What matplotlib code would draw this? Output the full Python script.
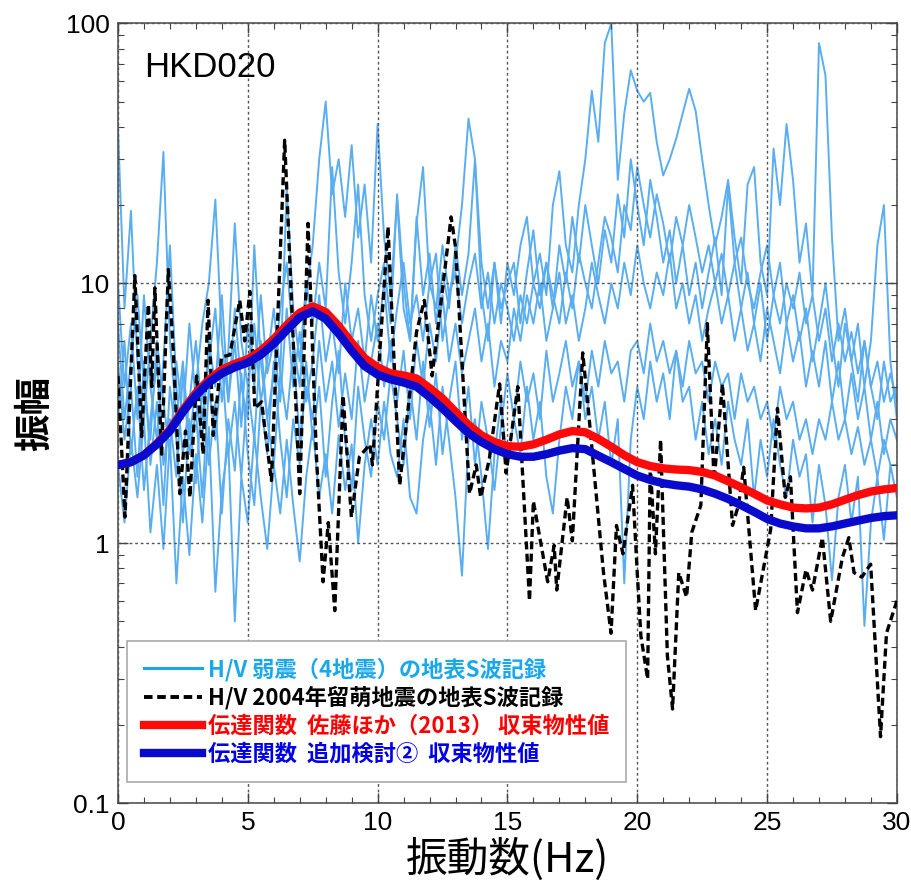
import numpy as np
import matplotlib
matplotlib.use('Agg')
import matplotlib.pyplot as plt
from matplotlib import font_manager
from matplotlib.lines import Line2D
from matplotlib.ticker import FixedLocator, NullFormatter

# ---- data ----
# weak-motion H/V records, one value every 0.25 Hz from 0 to 30 Hz
hv_freq = np.linspace(0, 30, 121)
hv_1 = [40, 8, 19, 5, 3, 6, 12, 32, 6, 3, 5, 2.5, 4, 7, 10, 21, 6, 3.5, 8, 4,
        3, 14, 5, 3, 4.5, 8, 12, 6, 4, 9, 14, 30, 50, 22, 30, 18, 34, 15, 24, 12,
        41, 15, 9, 21, 8, 6, 17, 28, 10, 13, 6, 9, 12, 20, 43, 30, 12, 8, 12, 7,
        12, 9, 14, 18, 10, 13, 9, 20, 27, 14, 11, 20, 30, 55, 35, 84, 100, 25, 45, 66,
        55, 50, 54, 35, 26, 30, 36, 45, 56, 46, 30, 20, 14, 18, 25, 15, 10, 24, 28, 12,
        9, 33, 20, 41, 25, 12, 17, 9, 84, 63, 15, 6, 8, 5, 7, 4, 6, 14, 20, 5, 3]
hv_2 = [10, 4, 7, 3, 9, 4, 2.5, 5, 14, 4, 2.2, 3.5, 6, 3, 5, 8, 3.5, 5.5, 17, 6,
        4, 7, 3.5, 5, 8, 4.5, 23, 8, 5, 10, 7, 12, 8, 28, 11, 7, 12, 24, 9, 6,
        9, 12, 7, 22, 10, 6, 18, 9, 13, 7, 11, 8, 14, 9, 13, 30, 9, 6, 12, 8,
        10, 12, 7, 11, 16, 9, 12, 8, 14, 10, 18, 12, 20, 14, 10, 16, 12, 22, 15, 30,
        20, 14, 25, 18, 12, 16, 10, 14, 9, 12, 8, 11, 15, 9, 24, 12, 8, 11, 7, 10,
        6, 9, 12, 7, 9, 6, 8, 5, 7, 10, 6, 4, 7, 5, 3.5, 6, 4, 3, 5, 3.5, 4]
hv_3 = [3, 6, 2.2, 4, 1.6, 3, 5, 2, 3, 1.8, 4.5, 2.2, 3.2, 1.5, 4, 2.5, 5, 2.2, 3.5, 1.8,
        4, 2.5, 6, 3, 2, 4.5, 3, 5.5, 2.5, 4, 3, 6, 3.5, 5, 2.8, 4.5, 3, 6, 3.5, 5,
        7, 4, 6, 3.5, 5.5, 3, 6, 4, 7, 5, 9, 5, 7, 4.5, 6, 8, 5, 7, 4, 6,
        5, 8, 6, 9, 7, 10, 6, 8, 11, 7, 9, 6, 8, 12, 9, 7, 10, 8, 12, 9,
        14, 10, 8, 11, 9, 13, 8, 10, 7, 9, 6, 8, 10, 7, 9, 6, 8, 5.5, 7, 5,
        8, 6, 4.5, 7, 5, 6.5, 4, 5.5, 4, 6, 3.5, 5, 3, 4.5, 3, 4, 2.5, 3.5, 2.2, 3, 2.5]
hv_4 = [2, 1.2, 2.5, 1.5, 3, 1.1, 2, 0.95, 2.5, 0.7, 1.8, 0.9, 2.2, 1.2, 2.8, 0.65, 1.6, 2.4, 0.5, 1.8,
        1.2, 2.6, 1.5, 0.95, 2, 1.3, 2.5, 1.4, 0.85, 1.8, 2.8, 1.5, 2.2, 1.3, 2.6, 1.6, 2.4, 1.0, 2, 3,
        2, 3.5, 2.2, 1.8, 3, 1.5, 1.3, 2.5, 3.5, 2, 4, 2.5, 1.5, 0.75, 2.5, 3, 1.8, 0.95, 2.2, 3.5,
        2, 3, 2.2, 4, 2.5, 3.5, 1.8, 1.3, 2.5, 4, 3, 5, 3, 4, 2.5, 3.5, 2, 3, 0.7, 2.5,
        4, 3, 5, 3.5, 4.5, 3, 5.5, 3.5, 4, 2.5, 3.5, 2.2, 3, 2, 3.5, 2.5, 2, 3, 1.5, 2.5,
        1.8, 3, 2, 1.5, 2.5, 1.8, 2.2, 1.2, 2, 1.4, 0.72, 1.5, 2, 1.2, 1.8, 0.48, 1.2, 1.8, 1.03, 2, 1.5]
hv_5 = [5, 2.5, 4, 1.8, 5, 2, 3.5, 1.4, 4, 2.5, 1.2, 3, 1.7, 4, 2, 3.5, 1.3, 3, 1.9, 4.5,
        2.2, 1.4, 3.5, 2.2, 5, 2.5, 1.5, 3, 2, 5, 2.5, 4, 1.8, 3.5, 5.5, 2.5, 1.6, 4, 2.5, 1.8,
        3.5, 2.5, 4.5, 3, 2, 4, 2.5, 5, 2.8, 4.5, 2.2, 3.5, 5, 2.5, 4, 2, 3.5, 2.5, 1.6, 2.8,
        4.5, 3, 5, 3.5, 4.5, 3, 5.5, 3.5, 4.5, 6, 4, 5, 3.5, 5.5, 4, 6, 4.5, 5, 3.5, 5.5,
        6, 4.5, 7, 5, 6, 4.5, 5.5, 4, 6, 4.5, 5, 3.5, 5, 4, 4.5, 3, 4.5, 3.5, 4, 3,
        3.5, 2.5, 4, 3, 3.5, 2.5, 3, 2.2, 3, 2.5, 3.5, 2.5, 3, 2.2, 2.8, 2, 2.5, 1.8, 2.5, 2, 2]
hv_6 = [7, 3, 5, 9, 4, 2.5, 6, 3.5, 2.2, 5, 3, 7, 3.5, 2.5, 6, 4, 9, 3.5, 6, 2.8,
        7, 4, 9, 4.5, 6, 3.5, 8, 4, 6.5, 3.5, 5, 9, 5, 7, 4.5, 10, 6, 8, 5, 9,
        6, 10, 5, 8, 12, 7, 9, 6, 10, 8, 14, 9, 11, 7, 10, 13, 8, 11, 7, 10,
        8, 6, 9, 7, 10, 8, 12, 9, 7, 11, 8, 13, 10, 8, 12, 18, 15, 11, 20, 16,
        28, 20, 15, 22, 17, 12, 18, 14, 20, 15, 11, 14, 10, 13, 9, 12, 15, 10, 8, 11,
        14, 9, 7, 10, 8, 11, 7, 9, 6, 8, 5, 7, 5, 6.5, 4.5, 6, 4, 5, 3.5, 4.5, 3.5]
hv_weak = [hv_1, hv_2, hv_3, hv_4, hv_5, hv_6]

# 2004 Rumoi earthquake H/V (black dashed)
rumoi_freq = [0.0, 0.27, 0.65, 0.91, 1.17, 1.3, 1.42, 1.68, 1.94, 2.13, 2.38, 2.6, 2.77, 3.03,
              3.28, 3.47, 3.67, 3.99, 4.31, 4.69, 4.88, 5.08, 5.27, 5.53, 5.91, 6.42, 7.0, 7.32,
              7.64, 7.9, 8.1, 8.35, 8.67, 8.99, 9.3, 9.7, 9.8, 10.4, 10.85, 11.5, 11.8, 12.1,
              12.45, 12.83, 13.0, 13.54, 13.8, 13.97, 14.3, 14.7, 14.95, 15.4, 15.85, 16.0,
              16.55, 16.8, 16.9, 17.3, 17.5, 17.9, 18.1, 18.5, 18.7, 18.99, 19.2, 19.45, 19.6,
              19.82, 20.0, 20.14, 20.4, 20.5, 20.7, 20.9, 21.16, 21.36, 21.6, 21.9, 22.1, 22.45,
              22.7, 22.96, 23.28, 23.67, 23.9, 24.1, 24.56, 25.14, 25.4, 25.7, 25.9, 26.17,
              26.5, 26.75, 27.13, 27.45, 27.9, 28.15, 28.35, 28.65, 28.99, 29.37, 29.6, 30.0]
rumoi_hv = [4.4, 1.26, 10.7, 2.57, 8.3, 4.0, 9.6, 2.2, 11.3, 5.5, 1.55, 2.7, 1.5, 4.4,
            2.2, 8.6, 2.6, 5.2, 5.3, 8.6, 6.0, 9.3, 3.3, 3.5, 1.74, 35.5, 1.55, 17.0,
            2.2, 0.71, 1.2, 0.55, 3.7, 1.26, 2.15, 2.4, 2.0, 16.5, 1.67, 6.5, 8.6, 4.4,
            8.6, 18.0, 13.8, 1.55, 2.0, 1.5, 2.1, 4.1, 1.86, 4.0, 0.6, 1.45,
            0.71, 0.98, 0.66, 1.5, 1.02, 5.4, 3.4, 1.26, 0.77, 0.45, 1.17, 0.91, 1.17,
            1.67, 0.77, 0.44, 0.30, 2.0, 0.91, 2.5, 0.37, 0.23, 0.77, 0.62, 1.1, 1.4,
            7.0, 1.74, 4.1, 1.17, 1.4, 1.96, 0.55, 1.13, 3.3, 1.5, 1.8, 0.54,
            0.79, 0.66, 1.05, 0.5, 0.88, 1.05, 0.77, 0.74, 0.83, 0.18, 0.45, 0.6]

# transfer functions, every 0.5 Hz
tf_freq = np.linspace(0, 30, 61)
tf_sato = [2.0, 2.05, 2.18, 2.42, 2.73, 3.25, 3.78, 4.25, 4.65, 4.9, 5.1, 5.5, 6.1, 6.9, 7.7, 8.15,
           7.75, 6.85, 5.9, 5.15, 4.75, 4.5, 4.42, 4.3, 3.95, 3.6, 3.2, 2.85, 2.6, 2.45, 2.36,
           2.35, 2.4, 2.5, 2.62, 2.7, 2.67, 2.52, 2.35, 2.18, 2.05, 1.98, 1.94, 1.92, 1.91,
           1.88, 1.82, 1.73, 1.64, 1.55, 1.46, 1.41, 1.37, 1.36, 1.37, 1.41, 1.47, 1.53,
           1.58, 1.61, 1.63]
tf_add2 = [2.0, 2.05, 2.18, 2.4, 2.7, 3.2, 3.7, 4.15, 4.5, 4.75, 4.95, 5.3, 5.85, 6.6, 7.4, 7.8,
           7.3, 6.4, 5.5, 4.8, 4.45, 4.27, 4.15, 4.0, 3.65, 3.3, 2.95, 2.65, 2.45, 2.3, 2.2,
           2.15, 2.15, 2.2, 2.27, 2.32, 2.3, 2.17, 2.05, 1.93, 1.82, 1.75, 1.7, 1.67, 1.65,
           1.61, 1.55, 1.48, 1.4, 1.32, 1.24, 1.19, 1.16, 1.14, 1.14, 1.16, 1.19, 1.22,
           1.25, 1.27, 1.28]

labels = ['H/V 弱震（4地震）の地表S波記録',
          'H/V 2004年留萌地震の地表S波記録',
          '伝達関数  佐藤ほか（2013） 収束物性値',
          '伝達関数  追加検討②  収束物性値']

# ---- fonts ----
names = set(f.name for f in font_manager.fontManager.ttflist)
num_font = 'Liberation Sans Narrow' if 'Liberation Sans Narrow' in names else 'Liberation Sans'
jp = ['Noto Sans CJK JP', 'DejaVu Sans']

c_weak = '#5aaef0'
c_red = '#ff0a0a'
c_blue = '#0a0acc'

fig = plt.figure(figsize=(9.11, 8.89), dpi=100)
ax = fig.add_axes([0.1295, 0.0967, 0.855, 0.877])

for h in hv_weak:
    ax.plot(hv_freq, h, color=c_weak, lw=1.4, zorder=2)
ax.plot(rumoi_freq, rumoi_hv, color='black', lw=2.4, ls=(0, (2.4, 1.3)), zorder=3)
ax.plot(tf_freq, tf_sato, color=c_red, lw=6, solid_capstyle='round', zorder=4)
ax.plot(tf_freq, tf_add2, color=c_blue, lw=6, solid_capstyle='round', zorder=5)

ax.set_yscale('log')
ax.set_xlim(0, 30)
ax.set_ylim(0.1, 100)
ax.set_xticks([0, 5, 10, 15, 20, 25, 30])
ax.set_xticklabels(['0', '5', '10', '15', '20', '25', '30'])
ax.xaxis.set_minor_locator(FixedLocator(np.arange(0, 31, 1)))
ax.set_yticks([0.1, 1, 10, 100])
ax.set_yticklabels(['0.1', '1', '10', '100'])
ax.yaxis.set_minor_formatter(NullFormatter())
ax.tick_params(which='both', direction='in', top=True, right=True, colors='#444444')
ax.tick_params(which='major', length=7, width=1, labelsize=19, labelcolor='black', pad=6)
ax.tick_params(which='minor', length=4, width=0.8)
for lab in ax.get_xticklabels() + ax.get_yticklabels():
    lab.set_family(num_font)
for s in ax.spines.values():
    s.set_color('#555555')
    s.set_linewidth(1.2)
ax.grid(True, which='major', color='#555555', ls=(0, (2, 2)), lw=1)
ax.set_axisbelow(False)

ax.set_xlabel('振動数(Hz)', fontsize=30, family=jp, labelpad=2)
ax.set_ylabel('振幅', fontsize=27, family=jp, fontweight='bold', labelpad=8)

ax.text(0.033, 0.965, 'HKD020', transform=ax.transAxes, fontsize=25,
        family='Liberation Sans', va='top', ha='left')

handles = [Line2D([], [], color='#1aa8ec', lw=2.2),
           Line2D([], [], color='black', lw=2.8, ls=(0, (2.2, 1.2))),
           Line2D([], [], color=c_red, lw=6),
           Line2D([], [], color=c_blue, lw=6)]
leg = ax.legend(handles, labels, loc='lower left', bbox_to_anchor=(0.012, 0.027),
                borderaxespad=0, prop={'family': jp, 'size': 16, 'weight': 'bold'},
                labelcolor=['#1aa8ec', 'black', '#ff0000', '#0000e6'],
                handlelength=2.6, handletextpad=0.3, labelspacing=0.22,
                borderpad=0.75, fancybox=False, framealpha=1, edgecolor='#aaaaaa')
leg.get_frame().set_linewidth(1.2)
leg.set_zorder(10)

fig.savefig('out.png', dpi=100)
